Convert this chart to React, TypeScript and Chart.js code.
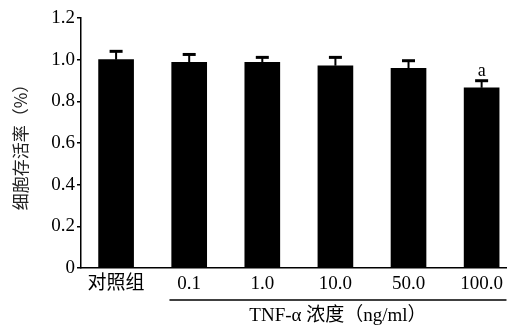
import { useEffect, useRef } from "react";
import { Chart, registerables } from "chart.js";
Chart.register(...registerables);

const categories = ["对照组", "0.1", "1.0", "10.0", "50.0", "100.0"];
const means = [1.0, 0.987, 0.987, 0.971, 0.958, 0.865];
const errors = [0.04, 0.038, 0.024, 0.04, 0.037, 0.034];
const marks = ["", "", "", "", "", "a"];
const yTicks = [0, 0.2, 0.4, 0.6, 0.8, 1.0, 1.2];
const yTitle = "细胞存活率（%）";
const xTitle = "TNF-α 浓度（ng/ml）";
const groupStartIndex = 1;

const SERIF = "'Liberation Serif', 'Noto Sans CJK SC', serif";
const CJK = "'Noto Sans CJK SC', 'Liberation Serif', sans-serif";

const decorPlugin = {
  id: "decor",
  afterDatasetsDraw(chart: any) {
    const ctx = chart.ctx;
    const ys = chart.scales.y;
    const meta = chart.getDatasetMeta(0);
    ctx.save();
    ctx.strokeStyle = "#000";
    ctx.fillStyle = "#000";
    meta.data.forEach((el: any, i: number) => {
      const top = ys.getPixelForValue(means[i] + errors[i]);
      ctx.lineWidth = 2;
      ctx.beginPath();
      ctx.moveTo(el.x, el.y);
      ctx.lineTo(el.x, top);
      ctx.stroke();
      ctx.lineWidth = 3;
      ctx.beginPath();
      ctx.moveTo(el.x - 6.5, top);
      ctx.lineTo(el.x + 6.5, top);
      ctx.stroke();
      if (marks[i]) {
        ctx.font = "18px " + SERIF;
        ctx.textAlign = "center";
        ctx.textBaseline = "alphabetic";
        ctx.fillText(marks[i], el.x, top - 5);
      }
    });
    ctx.restore();
  },
  afterDraw(chart: any) {
    const ctx = chart.ctx;
    const xs = chart.scales.x;
    const area = chart.chartArea;
    ctx.save();
    ctx.fillStyle = "#222";
    ctx.font = "17px " + CJK;
    ctx.textAlign = "center";
    ctx.textBaseline = "middle";
    ctx.translate(21, (area.top + area.bottom) / 2);
    ctx.rotate(-Math.PI / 2);
    ctx.fillText(yTitle, 0, 0);
    ctx.restore();
    ctx.save();
    const x0 = xs.getPixelForValue(groupStartIndex - 0.27);
    const x1 = area.right;
    const ly = area.bottom + 32;
    ctx.strokeStyle = "#000";
    ctx.lineWidth = 1.5;
    ctx.beginPath();
    ctx.moveTo(x0, ly);
    ctx.lineTo(x1, ly);
    ctx.stroke();
    ctx.fillStyle = "#000";
    ctx.font = "19px " + SERIF;
    ctx.textAlign = "center";
    ctx.textBaseline = "middle";
    ctx.fillText(xTitle, (x0 + x1) / 2, ly + 16);
    ctx.restore();
  },
};

export default function App() {
  const ref = useRef<HTMLCanvasElement>(null);
  useEffect(() => {
    if (!ref.current) return;
    const chart = new Chart(ref.current, {
      type: "bar",
      data: {
        datasets: [
          {
            data: means.map((v, i) => ({ x: i, y: v })),
            backgroundColor: "#000",
            borderWidth: 0,
            barThickness: 35,
          },
        ],
      },
      options: {
        responsive: false,
        animation: false,
        devicePixelRatio: 1,
        layout: { padding: { top: 18, right: 0, left: 0, bottom: 0 } },
        plugins: { legend: { display: false }, tooltip: { enabled: false } },
        scales: {
          x: {
            type: "linear",
            offset: false,
            min: -0.48,
            max: 5.34,
            afterBuildTicks: (s: any) => {
              s.ticks = categories.map((_, i) => ({ value: i }));
            },
            afterFit: (s: any) => {
              s.height = 58;
            },
            ticks: {
              callback: (v: any) => categories[v] ?? "",
              color: "#000",
              font: { family: SERIF, size: 19 },
              padding: 5,
              maxRotation: 0,
              autoSkip: false,
            },
            grid: { display: true, offset: false, drawOnChartArea: false, drawTicks: false, tickLength: 0 },
            border: { display: true, color: "#000", width: 1.5 },
          },
          y: {
            min: 0,
            max: 1.2,
            afterBuildTicks: (s: any) => {
              s.ticks = yTicks.map((v) => ({ value: v }));
            },
            afterFit: (s: any) => {
              s.width = 81;
            },
            ticks: {
              callback: (v: any) => (v === 0 ? "0" : Number(v).toFixed(1)),
              color: "#000",
              font: { family: SERIF, size: 19 },
              padding: 2,
            },
            grid: { display: true, drawOnChartArea: false, drawTicks: true, tickLength: 4, color: "#000", lineWidth: 1.5 },
            border: { display: true, color: "#000", width: 1.5 },
          },
        },
      },
      plugins: [decorPlugin],
    } as any);
    return () => chart.destroy();
  }, []);
  return (
    <div style={{ position: "fixed", left: 0, top: 0, width: 508, height: 326, background: "#fff" }}>
      <canvas ref={ref} width={508} height={326} />
    </div>
  );
}
